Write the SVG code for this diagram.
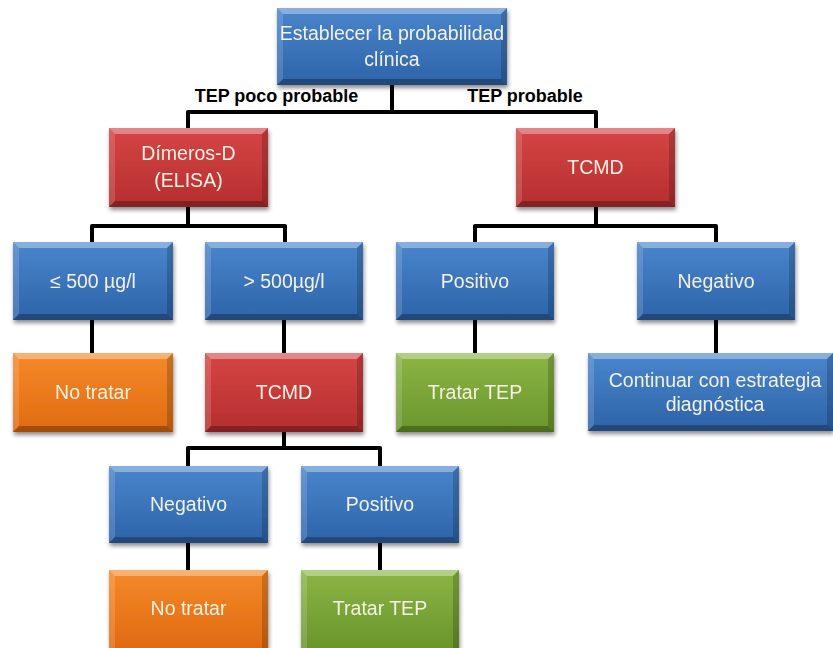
<svg xmlns="http://www.w3.org/2000/svg" width="833" height="648" viewBox="0 0 833 648">
  <defs>
    <filter id="shadow" x="-10%" y="-10%" width="125%" height="130%">
      <feDropShadow dx="1" dy="3" stdDeviation="2" flood-color="#000" flood-opacity="0.45"/>
    </filter>
    <linearGradient id="gBlue" x1="0" y1="0" x2="0" y2="1">
      <stop offset="0" stop-color="#4a86cc"/>
      <stop offset="1" stop-color="#2d63a8"/>
    </linearGradient>
    <linearGradient id="gRed" x1="0" y1="0" x2="0" y2="1">
      <stop offset="0" stop-color="#d64545"/>
      <stop offset="1" stop-color="#b52e2e"/>
    </linearGradient>
    <linearGradient id="gOrange" x1="0" y1="0" x2="0" y2="1">
      <stop offset="0" stop-color="#f58a2a"/>
      <stop offset="1" stop-color="#e06a10"/>
    </linearGradient>
    <linearGradient id="gGreen" x1="0" y1="0" x2="0" y2="1">
      <stop offset="0" stop-color="#8cb545"/>
      <stop offset="1" stop-color="#6a962c"/>
    </linearGradient>
  </defs>
  <style>
    .box { filter: url(#shadow); }
    .blue { fill: url(#gBlue); }
    .red { fill: url(#gRed); }
    .orange { fill: url(#gOrange); }
    .green { fill: url(#gGreen); }
    .bt { fill: #ffffff; opacity: 0.35; }
    .bl { fill: #ffffff; opacity: 0.15; }
    .br { fill: #000000; opacity: 0.18; }
    .bb { fill: #000000; opacity: 0.28; }
    .lbl { font-family: "Liberation Sans", Arial, sans-serif; font-size: 19.5px; fill: #f4f1e4; text-anchor: middle; }
    .branch { font-family: "Liberation Sans", Arial, sans-serif; font-size: 18px; font-weight: bold; fill: #000; text-anchor: middle; }
    .wire { stroke: #000; stroke-width: 4; fill: none; stroke-linejoin: round; }
  </style>

  <rect width="833" height="648" fill="#ffffff"/>

  <!-- connectors -->
  <g id="connectors">
    <path class="wire" d="M392 85 V112 M188 128 V112 H596 V128"/>
    <path class="wire" d="M188 207 V226 M92 242 V226 H285 V242"/>
    <path class="wire" d="M596 207 V226 M475 242 V226 H716 V242"/>
    <path class="wire" d="M92 320 V353 M284 320 V353 M475 320 V353 M716 320 V353"/>
    <path class="wire" d="M284 432 V448 M188 466 V448 H380 V466"/>
    <path class="wire" d="M188 543 V570 M380 543 V570"/>
  </g>

  <!-- branch labels -->
  <text class="branch" x="276.5" y="102">TEP poco probable</text>
  <text class="branch" x="525" y="102">TEP probable</text>

  <!-- nodes -->
  <g id="n-start" class="box">
    <rect class="blue" x="277" y="8" width="230" height="77"/>
    <polygon class="bt" points="277,8 507,8 501,14 283,14"/>
    <polygon class="bl" points="277,8 283,14 283,79 277,85"/>
    <polygon class="br" points="507,8 507,85 501,79 501,14"/>
    <polygon class="bb" points="277,85 507,85 501,79 283,79"/>
    <text class="lbl" x="392" y="40">Establecer la probabilidad</text>
    <text class="lbl" x="392" y="66">clínica</text>
  </g>

  <g id="n-dimeros" class="box">
    <rect class="red" x="109" y="128" width="159" height="79"/>
    <polygon class="bt" points="109,128 268,128 262,134 115,134"/>
    <polygon class="bl" points="109,128 115,134 115,201 109,207"/>
    <polygon class="br" points="268,128 268,207 262,201 262,134"/>
    <polygon class="bb" points="109,207 268,207 262,201 115,201"/>
    <text class="lbl" x="188.5" y="160">Dímeros-D</text>
    <text class="lbl" x="188.5" y="187">(ELISA)</text>
  </g>

  <g id="n-tcmd-a" class="box">
    <rect class="red" x="516" y="128" width="159" height="79"/>
    <polygon class="bt" points="516,128 675,128 669,134 522,134"/>
    <polygon class="bl" points="516,128 522,134 522,201 516,207"/>
    <polygon class="br" points="675,128 675,207 669,201 669,134"/>
    <polygon class="bb" points="516,207 675,207 669,201 522,201"/>
    <text class="lbl" x="595.5" y="174">TCMD</text>
  </g>

  <g id="n-le500" class="box">
    <rect class="blue" x="13" y="242" width="160" height="78"/>
    <polygon class="bt" points="13,242 173,242 167,248 19,248"/>
    <polygon class="bl" points="13,242 19,248 19,314 13,320"/>
    <polygon class="br" points="173,242 173,320 167,314 167,248"/>
    <polygon class="bb" points="13,320 173,320 167,314 19,314"/>
    <text class="lbl" x="93" y="288">≤ 500 µg/l</text>
  </g>

  <g id="n-gt500" class="box">
    <rect class="blue" x="205" y="242" width="158" height="78"/>
    <polygon class="bt" points="205,242 363,242 357,248 211,248"/>
    <polygon class="bl" points="205,242 211,248 211,314 205,320"/>
    <polygon class="br" points="363,242 363,320 357,314 357,248"/>
    <polygon class="bb" points="205,320 363,320 357,314 211,314"/>
    <text class="lbl" x="284" y="288">&gt; 500µg/l</text>
  </g>

  <g id="n-pos-a" class="box">
    <rect class="blue" x="396" y="242" width="158" height="78"/>
    <polygon class="bt" points="396,242 554,242 548,248 402,248"/>
    <polygon class="bl" points="396,242 402,248 402,314 396,320"/>
    <polygon class="br" points="554,242 554,320 548,314 548,248"/>
    <polygon class="bb" points="396,320 554,320 548,314 402,314"/>
    <text class="lbl" x="475" y="288">Positivo</text>
  </g>

  <g id="n-neg-a" class="box">
    <rect class="blue" x="637" y="242" width="158" height="78"/>
    <polygon class="bt" points="637,242 795,242 789,248 643,248"/>
    <polygon class="bl" points="637,242 643,248 643,314 637,320"/>
    <polygon class="br" points="795,242 795,320 789,314 789,248"/>
    <polygon class="bb" points="637,320 795,320 789,314 643,314"/>
    <text class="lbl" x="716" y="288">Negativo</text>
  </g>

  <g id="n-notratar-a" class="box">
    <rect class="orange" x="13" y="353" width="160" height="79"/>
    <polygon class="bt" points="13,353 173,353 167,359 19,359"/>
    <polygon class="bl" points="13,353 19,359 19,426 13,432"/>
    <polygon class="br" points="173,353 173,432 167,426 167,359"/>
    <polygon class="bb" points="13,432 173,432 167,426 19,426"/>
    <text class="lbl" x="93" y="399">No tratar</text>
  </g>

  <g id="n-tcmd-b" class="box">
    <rect class="red" x="205" y="353" width="158" height="79"/>
    <polygon class="bt" points="205,353 363,353 357,359 211,359"/>
    <polygon class="bl" points="205,353 211,359 211,426 205,432"/>
    <polygon class="br" points="363,353 363,432 357,426 357,359"/>
    <polygon class="bb" points="205,432 363,432 357,426 211,426"/>
    <text class="lbl" x="284" y="399">TCMD</text>
  </g>

  <g id="n-tratar-a" class="box">
    <rect class="green" x="396" y="353" width="158" height="79"/>
    <polygon class="bt" points="396,353 554,353 548,359 402,359"/>
    <polygon class="bl" points="396,353 402,359 402,426 396,432"/>
    <polygon class="br" points="554,353 554,432 548,426 548,359"/>
    <polygon class="bb" points="396,432 554,432 548,426 402,426"/>
    <text class="lbl" x="475" y="399">Tratar TEP</text>
  </g>

  <g id="n-continuar" class="box">
    <rect class="blue" x="588" y="353" width="245" height="78"/>
    <polygon class="bt" points="588,353 833,353 827,359 594,359"/>
    <polygon class="bl" points="588,353 594,359 594,425 588,431"/>
    <polygon class="br" points="833,353 833,431 827,425 827,359"/>
    <polygon class="bb" points="588,431 833,431 827,425 594,425"/>
    <text class="lbl" x="715" y="387">Continuar con estrategia</text>
    <text class="lbl" x="715" y="411">diagnóstica</text>
  </g>

  <g id="n-neg-b" class="box">
    <rect class="blue" x="109" y="466" width="159" height="77"/>
    <polygon class="bt" points="109,466 268,466 262,472 115,472"/>
    <polygon class="bl" points="109,466 115,472 115,537 109,543"/>
    <polygon class="br" points="268,466 268,543 262,537 262,472"/>
    <polygon class="bb" points="109,543 268,543 262,537 115,537"/>
    <text class="lbl" x="188.5" y="511">Negativo</text>
  </g>

  <g id="n-pos-b" class="box">
    <rect class="blue" x="301" y="466" width="158" height="77"/>
    <polygon class="bt" points="301,466 459,466 453,472 307,472"/>
    <polygon class="bl" points="301,466 307,472 307,537 301,543"/>
    <polygon class="br" points="459,466 459,543 453,537 453,472"/>
    <polygon class="bb" points="301,543 459,543 453,537 307,537"/>
    <text class="lbl" x="380" y="511">Positivo</text>
  </g>

  <g id="n-notratar-b" class="box">
    <rect class="orange" x="109" y="570" width="159" height="78"/>
    <polygon class="bt" points="109,570 268,570 262,576 115,576"/>
    <polygon class="bl" points="109,570 115,576 115,648 109,648"/>
    <polygon class="br" points="268,570 268,648 262,648 262,576"/>
    <text class="lbl" x="188.5" y="615">No tratar</text>
  </g>

  <g id="n-tratar-b" class="box">
    <rect class="green" x="301" y="570" width="158" height="78"/>
    <polygon class="bt" points="301,570 459,570 453,576 307,576"/>
    <polygon class="bl" points="301,570 307,576 307,648 301,648"/>
    <polygon class="br" points="459,570 459,648 453,648 453,576"/>
    <text class="lbl" x="380" y="615">Tratar TEP</text>
  </g>
</svg>
